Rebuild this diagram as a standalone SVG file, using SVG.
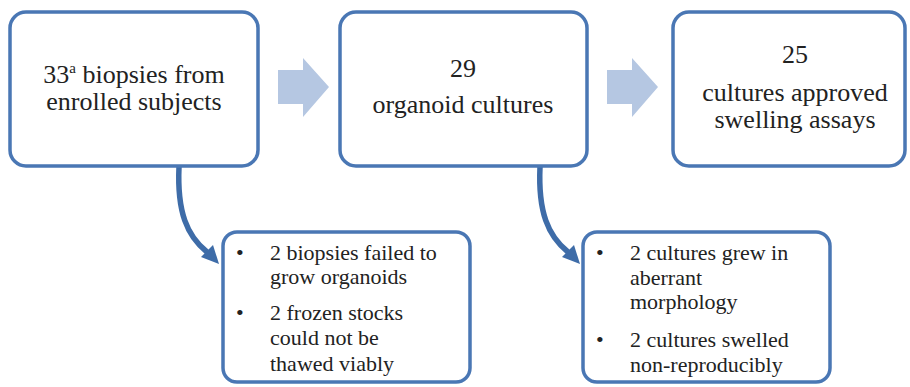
<svg xmlns="http://www.w3.org/2000/svg" width="910" height="387" viewBox="0 0 910 387">
<style>
.box{fill:#fff;stroke:#4a77b4;stroke-width:3.5}
.blk{fill:#b5c7e2}
.cur{fill:none;stroke:#3e6ca8;stroke-width:5.5}
.head{fill:#3e6ca8}
</style>
<rect width="910" height="387" fill="#fff"/>
<g id="connectors">
<path class="blk" d="M278,70 H303 V58 L329,87 L303,117 V104 H278 Z"/>
<path class="blk" d="M607,70 H632 V58 L658,87 L632,117 V104 H607 Z"/>
<path class="cur" d="M179,167 C177,212 187,236 207,252"/>
<polygon class="head" points="219,264 201,257 213,245"/>
<path class="cur" d="M540,167 C538,212 548,236 568,252"/>
<polygon class="head" points="580,264 562,257 574,245"/>
</g>
<g id="n1">
<rect class="box" x="10" y="12" width="248" height="154" rx="16"/>
<text font-family="Liberation Serif" font-size="26" fill="#222" text-anchor="middle" x="134" y="83">33<tspan font-size="15" dy="-10">a</tspan><tspan dy="10"> biopsies from</tspan></text>
<text font-family="Liberation Serif" font-size="26" fill="#222" text-anchor="middle" x="134" y="110">enrolled subjects</text>
</g>
<g id="n2">
<rect class="box" x="340" y="12" width="247" height="154" rx="16"/>
<text font-family="Liberation Serif" font-size="26" fill="#222" text-anchor="middle" x="463" y="77">29</text>
<text font-family="Liberation Serif" font-size="26" fill="#222" text-anchor="middle" x="463" y="113">organoid cultures</text>
</g>
<g id="n3">
<rect class="box" x="673" y="12" width="232" height="154" rx="16"/>
<text font-family="Liberation Serif" font-size="26" fill="#222" text-anchor="middle" x="795" y="63">25</text>
<text font-family="Liberation Serif" font-size="26" fill="#222" text-anchor="middle" x="795" y="101">cultures approved</text>
<text font-family="Liberation Serif" font-size="26" fill="#222" text-anchor="middle" x="795" y="128">swelling assays</text>
</g>
<g id="n4">
<rect class="box" x="223" y="232" width="247" height="150" rx="14"/>
<text font-family="Liberation Serif" font-size="22" fill="#222" x="236" y="260">•</text>
<text font-family="Liberation Serif" font-size="22" fill="#222" x="270" y="260">2 biopsies failed  to</text>
<text font-family="Liberation Serif" font-size="22" fill="#222" x="270" y="284">grow organoids</text>
<text font-family="Liberation Serif" font-size="22" fill="#222" x="236" y="320">•</text>
<text font-family="Liberation Serif" font-size="22" fill="#222" x="270" y="320">2 frozen stocks</text>
<text font-family="Liberation Serif" font-size="22" fill="#222" x="270" y="345">could not be</text>
<text font-family="Liberation Serif" font-size="22" fill="#222" x="270" y="371">thawed viably</text>
</g>
<g id="n5">
<rect class="box" x="583" y="232" width="247" height="150" rx="14"/>
<text font-family="Liberation Serif" font-size="22" fill="#222" x="596" y="260">•</text>
<text font-family="Liberation Serif" font-size="22" fill="#222" x="630" y="260">2 cultures grew in</text>
<text font-family="Liberation Serif" font-size="22" fill="#222" x="630" y="285">aberrant</text>
<text font-family="Liberation Serif" font-size="22" fill="#222" x="630" y="309">morphology</text>
<text font-family="Liberation Serif" font-size="22" fill="#222" x="596" y="347">•</text>
<text font-family="Liberation Serif" font-size="22" fill="#222" x="630" y="347">2 cultures swelled</text>
<text font-family="Liberation Serif" font-size="22" fill="#222" x="630" y="372">non-reproducibly</text>
</g>
</svg>
